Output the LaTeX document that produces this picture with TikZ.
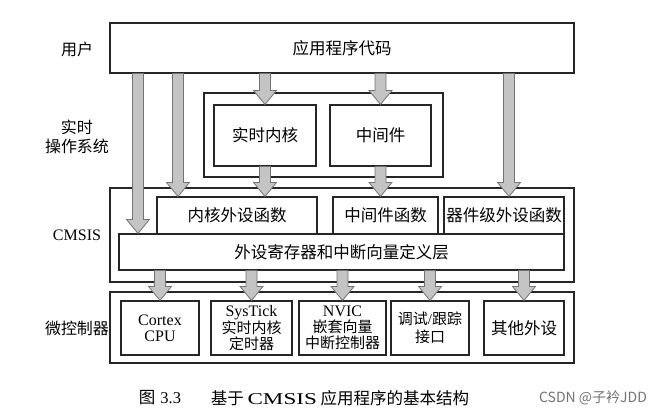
\documentclass[tikz,border=0pt]{standalone}
\usepackage{fontspec}
\setmainfont{Liberation Serif}
\newfontfamily\cjk{Noto Sans CJK SC}
\usepackage{tikz}
\usetikzlibrary{calc}

\newcommand{\boxfont}{\fontsize{16.5}{17}\selectfont}
\newcommand{\mcufont}{\fontsize{15}{15.8}\selectfont}
\newcommand{\lblfont}{\fontsize{16}{19}\selectfont}

% gray block arrow from #1 down to #2
\newcommand{\blockarrow}[2]{%
  \path (#1) coordinate (ba-s) (#2) coordinate (ba-e);
  \filldraw[barrow] ($(ba-s)+(-5.5,0)$) -- ($(ba-e)+(-5.5,-14)$) -- ($(ba-e)+(-11.5,-14)$)
    -- (ba-e) -- ($(ba-e)+(11.5,-14)$) -- ($(ba-e)+(5.5,-14)$) -- ($(ba-s)+(5.5,0)$) -- cycle;}

\tikzset{
  layerbox/.style={draw=black!85, line width=1.1pt, fill=white, inner sep=0pt},
  box/.style={layerbox, align=center, font=\boxfont\cjk},
  mcubox/.style={box, font=\mcufont\cjk, minimum height=54},
  lbl/.style={align=center, font=\lblfont\cjk},
  barrow/.style={fill=black!23, draw=black!55, line width=0.8pt},
}

\begin{document}
\begin{tikzpicture}[x=1pt,y=-1pt]
        \useasboundingbox (0,0) rectangle (664,420);

        % user layer
        \node[box, minimum width=464, minimum height=50] (user) at (342,48) {应用程序代码};
        \node[lbl] (luser) at (77,49) {用户};

        % RTOS layer
        \node[layerbox, minimum width=239, minimum height=84] (rtos) at (323.5,135) {};
        \node[box, minimum width=102, minimum height=61] (rtk) at (265,135.5) {实时内核};
        \node[box, minimum width=101, minimum height=61] (mid) at (380.5,135.5) {中间件};
        \node[lbl] (lrtos) at (77,137) {实时\\操作系统};

        % CMSIS layer
        \node[layerbox, minimum width=464, minimum height=94] (cmsis) at (342,235) {};
        \node[box, minimum width=160, minimum height=37] (kfun) at (237,215.5) {内核外设函数};
        \node[box, minimum width=105, minimum height=37] (mfun) at (385.5,215.5) {中间件函数};
        \node[box, minimum width=120, minimum height=37] (dfun) at (504,215.5) {器件级外设函数};
        \node[box, minimum width=445, minimum height=36] (layer) at (341.5,252) {外设寄存器和中断向量定义层};
        \node[lbl, font=\lblfont\rmfamily] (lcmsis) at (77,235) {CMSIS};

        % microcontroller layer
        \node[layerbox, minimum width=464, minimum height=71] (mcu) at (342,327.5) {};
        \node[mcubox, minimum width=78] (cpu) at (160,328) {\rmfamily\fontsize{16}{17}\selectfont Cortex\\\rmfamily\fontsize{16}{17}\selectfont CPU};
        \node[mcubox, minimum width=81] (tick) at (251.5,328) {{\rmfamily\fontsize{16}{15.8}\selectfont SysTick}\\实时内核\\定时器};
        \node[mcubox, minimum width=87] (nvic) at (342.5,328) {{\rmfamily\fontsize{16}{15.8}\selectfont NVIC}\\嵌套向量\\中断控制器};
        \node[mcubox, minimum width=78] (dbg) at (430,328) {调试{\rmfamily /}跟踪\\[2pt]接口};
        \node[mcubox, minimum width=80, font=\boxfont\cjk] (oth) at (524,328) {其他外设};
        \node[lbl] (lmcu) at (77,328) {微控制器};

        % arrows
        \coordinate (c1) at (138,0);
        \coordinate (c2) at (178,0);
        \coordinate (c5) at (509,0);
        \blockarrow{user.south -| c1}{layer.north -| c1}
        \blockarrow{user.south -| c2}{kfun.north -| c2}
        \blockarrow{user.south -| rtk}{rtk.north}
        \blockarrow{user.south -| mid}{mid.north}
        \blockarrow{user.south -| c5}{dfun.north -| c5}
        \blockarrow{rtk.south}{kfun.north -| rtk}
        \blockarrow{mid.south}{mfun.north -| mid}
        \foreach \n in {cpu,tick,nvic,dbg,oth} {
            \blockarrow{layer.south -| \n}{\n.north}
        }

        % caption
        \node[font=\fontsize{16.5}{19}\selectfont\cjk] (capnum) at (160,398) {图\hspace{5pt}{\rmfamily 3.3}};
        \node[font=\fontsize{16.5}{19}\selectfont\cjk] (captext) at (340,398) {基于 {\rmfamily\scalebox{1.4}[1]{CMSIS}} 应用程序的基本结构};
        \node[font=\fontsize{14}{16}\selectfont\cjk, text=black!55] (mark) at (593,398) {CSDN @子衿JDD};
\end{tikzpicture}
\end{document}
